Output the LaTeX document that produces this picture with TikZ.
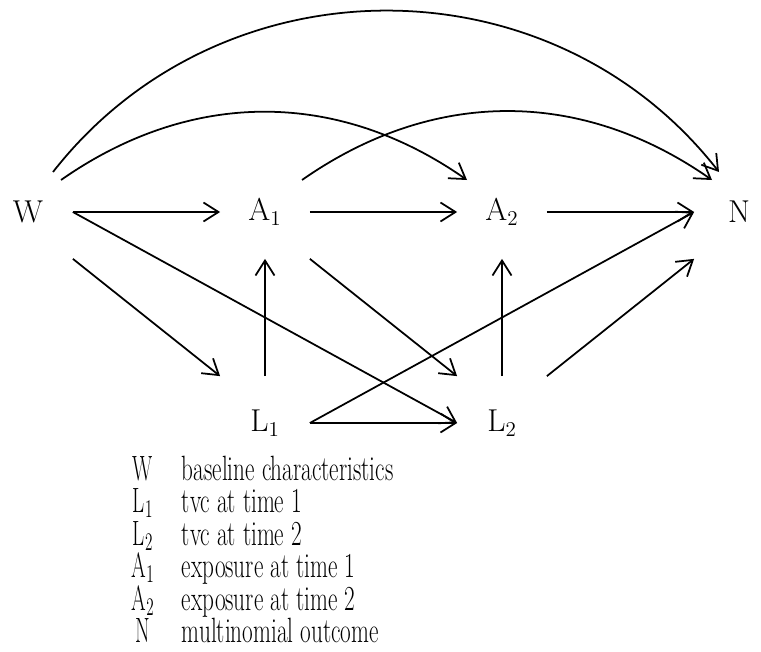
\documentclass[tikz,border=0pt]{standalone}
\usepackage{amsmath}
\usepackage{tikz}
\usetikzlibrary{positioning,arrows.meta}

\begin{document}
\begin{tikzpicture}[-{Straight Barb[length=0.3cm,width=0.38cm]}, line width=1pt,
  node distance=4.22cm and 4.74cm, on grid,
  var/.style={rectangle, minimum width=1.76cm, minimum height=1.84cm, inner sep=0pt,
    font=\fontsize{18}{22}\selectfont},
  legsym/.style={anchor=base, inner sep=0pt, font=\fontsize{20}{24}\selectfont},
  legtxt/.style={anchor=base west, inner sep=0pt, font=\fontsize{20}{24}\selectfont}]

  \useasboundingbox (0,0) rectangle (15.22,-13.02);

  \node[var] (W) at (0.56,-4.24) {W};
  \node[var] (A1) [right=of W] {A$_1$};
  \node[var] (A2) [right=of A1] {A$_2$};
  \node[var] (N) [right=of A2] {N};
  \node[var] (L1) [below=of A1] {L$_1$};
  \node[var] (L2) [below=of A2] {L$_2$};

  \path (W) edge (A1.west)
        (W.east) edge (L2.west)
        (W.south east) edge (L1.north west)
        (A1) edge (A2.west)
        (A1.south east) edge (L2.north west)
        (A2) edge (N.west)
        (L1) edge (A1.south)
             edge (L2.west)
        (L1.east) edge (N.west)
        (L2) edge (A2.south)
        (L2.north east) edge (N.south west);

  % curved arrows over the top
  \path ([shift={(0.66,0.64)}]W.center) edge [bend left=35]
          ([shift={(-0.70,0.64)}]A2.center)
        ([shift={(0.74,0.64)}]A1.center) edge [bend left=35]
          ([shift={(-0.54,0.64)}]N.center)
        ([shift={(0.50,0.80)}]W.center) edge [bend left=52, looseness=1.05]
          ([shift={(-0.40,0.80)}]N.center);

  % legend
  \node[legsym] (kW)  at (2.86,-9.60)  {\scalebox{0.6}[1]{W}};
  \node[legsym] (kL1) at (2.86,-10.25) {\scalebox{0.6}[1]{L$_1$}};
  \node[legsym] (kL2) at (2.86,-10.90) {\scalebox{0.6}[1]{L$_2$}};
  \node[legsym] (kA1) at (2.86,-11.55) {\scalebox{0.6}[1]{A$_1$}};
  \node[legsym] (kA2) at (2.86,-12.20) {\scalebox{0.6}[1]{A$_2$}};
  \node[legsym] (kN)  at (2.86,-12.85) {\scalebox{0.6}[1]{N}};
  \node[legtxt] (tW)  at (3.62,-9.60)  {\scalebox{0.66}[1]{baseline characteristics}};
  \node[legtxt] (tL1) at (3.62,-10.25) {\scalebox{0.66}[1]{tvc at time 1}};
  \node[legtxt] (tL2) at (3.62,-10.90) {\scalebox{0.66}[1]{tvc at time 2}};
  \node[legtxt] (tA1) at (3.62,-11.55) {\scalebox{0.66}[1]{exposure at time 1}};
  \node[legtxt] (tA2) at (3.62,-12.20) {\scalebox{0.66}[1]{exposure at time 2}};
  \node[legtxt] (tN)  at (3.62,-12.85) {\scalebox{0.66}[1]{multinomial outcome}};

\end{tikzpicture}
\end{document}
